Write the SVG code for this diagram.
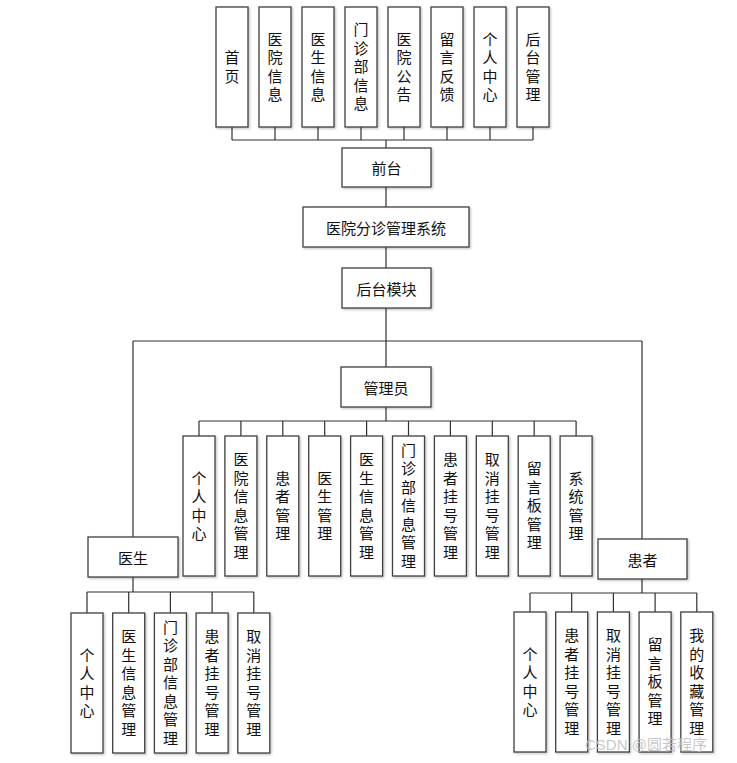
<svg xmlns="http://www.w3.org/2000/svg" width="737" height="763" viewBox="0 0 737 763">
<defs>
<filter id="sh" x="-20%" y="-20%" width="140%" height="140%"><feDropShadow dx="1.2" dy="1.2" stdDeviation="0.8" flood-color="#000" flood-opacity="0.25"/></filter>
</defs>
<style>
.b{fill:#fff;stroke:#404040;stroke-width:1.3;filter:url(#sh)}
.t{font-family:"Noto Sans CJK SC","Microsoft YaHei",sans-serif;font-size:15px;fill:#111;text-anchor:middle;dominant-baseline:central}
.v{font-family:"Noto Sans CJK SC","Microsoft YaHei",sans-serif;font-size:15px;fill:#111;text-anchor:middle;writing-mode:vertical-rl;letter-spacing:3.5px}
.c{fill:none;stroke:#303030;stroke-width:1.2}
.wm{font-family:"Liberation Sans","Noto Sans CJK SC",sans-serif;font-size:15px;fill:#bdbdbd;fill-opacity:0.85}
</style>
<rect width="737" height="763" fill="#fff"/>
<g id="connectors" class="c">
<path d="M232,127V140M275,127V140M318,127V140M361,127V140M404,127V140M447,127V140M490,127V140M533,127V140M232,140H533M386,140V148"/>
<path d="M386,187V207M386,247V268M386,308V341M133,341H642M386,341V367M133,341V537M642,341V539"/>
<path d="M386,407V421M199,421H576M199,421V436M240.9,421V436M282.8,421V436M324.7,421V436M366.6,421V436M408.5,421V436M450.4,421V436M492.3,421V436M534.2,421V436M576.1,421V436"/>
<path d="M133,577V592M87,592H254M87,592V613M128.7,592V613M170.4,592V613M212.1,592V613M253.8,592V613"/>
<path d="M642,579V593M530,593H697M530,593V612M571.7,593V612M613.4,593V612M655.1,593V612M696.8,593V612"/>
</g>
<g id="top-row">
<g id="n-shouye"><rect class="b" x="216" y="7" width="32" height="120"/><text class="v" x="232" y="68.5">首页</text></g>
<g id="n-yyxx"><rect class="b" x="259" y="7" width="32" height="120"/><text class="v" x="275" y="68.5">医院信息</text></g>
<g id="n-ysxx"><rect class="b" x="302" y="7" width="32" height="120"/><text class="v" x="318" y="68.5">医生信息</text></g>
<g id="n-mzbxx"><rect class="b" x="345" y="7" width="32" height="120"/><text class="v" x="361" y="68.5">门诊部信息</text></g>
<g id="n-yygg"><rect class="b" x="388" y="7" width="32" height="120"/><text class="v" x="404" y="68.5">医院公告</text></g>
<g id="n-lyfk"><rect class="b" x="431" y="7" width="32" height="120"/><text class="v" x="447" y="68.5">留言反馈</text></g>
<g id="n-grzx"><rect class="b" x="474" y="7" width="32" height="120"/><text class="v" x="490" y="68.5">个人中心</text></g>
<g id="n-htgl"><rect class="b" x="517" y="7" width="32" height="120"/><text class="v" x="533" y="68.5">后台管理</text></g>
</g>
<g id="n-qiantai"><rect class="b" x="342" y="148" width="89" height="39"/><text class="t" x="386.5" y="167.5">前台</text></g>
<g id="n-system"><rect class="b" x="303" y="207" width="166" height="40"/><text class="t" x="386" y="227">医院分诊管理系统</text></g>
<g id="n-houtai"><rect class="b" x="342" y="268" width="89" height="40"/><text class="t" x="386.5" y="288">后台模块</text></g>
<g id="n-admin"><rect class="b" x="341" y="367" width="90" height="40"/><text class="t" x="386" y="387">管理员</text></g>
<g id="admin-row">
<g id="a1"><rect class="b" x="183" y="436" width="32" height="140"/><text class="v" x="199" y="507.5">个人中心</text></g>
<g id="a2"><rect class="b" x="224.9" y="436" width="32" height="140"/><text class="v" x="240.9" y="507.5">医院信息管理</text></g>
<g id="a3"><rect class="b" x="266.8" y="436" width="32" height="140"/><text class="v" x="282.8" y="507.5">患者管理</text></g>
<g id="a4"><rect class="b" x="308.7" y="436" width="32" height="140"/><text class="v" x="324.7" y="507.5">医生管理</text></g>
<g id="a5"><rect class="b" x="350.6" y="436" width="32" height="140"/><text class="v" x="366.6" y="507.5">医生信息管理</text></g>
<g id="a6"><rect class="b" x="392.5" y="436" width="32" height="140"/><text class="v" x="408.5" y="507.5">门诊部信息管理</text></g>
<g id="a7"><rect class="b" x="434.4" y="436" width="32" height="140"/><text class="v" x="450.4" y="507.5">患者挂号管理</text></g>
<g id="a8"><rect class="b" x="476.3" y="436" width="32" height="140"/><text class="v" x="492.3" y="507.5">取消挂号管理</text></g>
<g id="a9"><rect class="b" x="518.2" y="436" width="32" height="140"/><text class="v" x="534.2" y="507.5">留言板管理</text></g>
<g id="a10"><rect class="b" x="560.1" y="436" width="32" height="140"/><text class="v" x="576.1" y="507.5">系统管理</text></g>
</g>
<g id="n-doctor"><rect class="b" x="88" y="537" width="90" height="40"/><text class="t" x="133" y="557">医生</text></g>
<g id="doctor-row">
<g id="d1"><rect class="b" x="71" y="613" width="32" height="140"/><text class="v" x="87" y="684.5">个人中心</text></g>
<g id="d2"><rect class="b" x="112.7" y="613" width="32" height="140"/><text class="v" x="128.7" y="684.5">医生信息管理</text></g>
<g id="d3"><rect class="b" x="154.4" y="613" width="32" height="140"/><text class="v" x="170.4" y="684.5">门诊部信息管理</text></g>
<g id="d4"><rect class="b" x="196.1" y="613" width="32" height="140"/><text class="v" x="212.1" y="684.5">患者挂号管理</text></g>
<g id="d5"><rect class="b" x="237.8" y="613" width="32" height="140"/><text class="v" x="253.8" y="684.5">取消挂号管理</text></g>
</g>
<g id="n-patient"><rect class="b" x="598" y="539" width="89" height="40"/><text class="t" x="642.5" y="559">患者</text></g>
<g id="patient-row">
<g id="p1"><rect class="b" x="514" y="612" width="32" height="140"/><text class="v" x="530" y="683.5">个人中心</text></g>
<g id="p2"><rect class="b" x="555.7" y="612" width="32" height="140"/><text class="v" x="571.7" y="683.5">患者挂号管理</text></g>
<g id="p3"><rect class="b" x="597.4" y="612" width="32" height="140"/><text class="v" x="613.4" y="683.5">取消挂号管理</text></g>
<g id="p4"><rect class="b" x="639.1" y="612" width="32" height="140"/><text class="v" x="655.1" y="683.5">留言板管理</text></g>
<g id="p5"><rect class="b" x="680.8" y="612" width="32" height="140"/><text class="v" x="696.8" y="683.5">我的收藏管理</text></g>
</g>
<text class="wm" x="585" y="750">CSDN @圆若程序</text>
</svg>
